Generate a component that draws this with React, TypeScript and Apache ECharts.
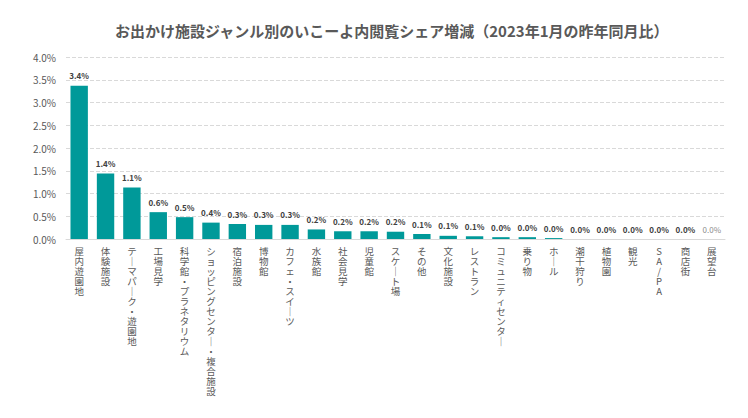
import React, { useEffect, useRef } from "react";
import * as echarts from "echarts";

const titleText = "お出かけ施設ジャンル別のいこーよ内閲覧シェア増減（2023年1月の昨年同月比）";

const categories = [
  "屋内遊園地", "体験施設", "テーマパーク・遊園地", "工場見学", "科学館・プラネタリウム",
  "ショッピングセンター・複合施設", "宿泊施設", "博物館", "カフェ・スイーツ", "水族館",
  "社会見学", "児童館", "スケート場", "その他", "文化施設", "レストラン",
  "コミュニティセンター", "乗り物", "ホール", "潮干狩り", "植物園", "観光",
  "SA/PA", "商店街", "展望台",
];

// share change, percentage points
const shareDiff = [
  3.37, 1.44, 1.13, 0.59, 0.48, 0.36, 0.33, 0.31, 0.31, 0.21,
  0.17, 0.17, 0.16, 0.11, 0.07, 0.06, 0.04, 0.04, 0.02, 0.0,
  0.0, 0.0, 0.0, 0.0, 0.0,
];

const yMax = 4;
const yStep = 0.5;

const FONT = "'Noto Sans CJK JP', 'Noto Sans', sans-serif";

// stack characters top to bottom (tategaki), long vowel mark turned vertical
const verticalize = (s: string) =>
  s.split("").map((c) => (c === "ー" ? "｜" : c)).join("\n");

const App: React.FC = () => {
  const chartRef = useRef<HTMLDivElement>(null);

  useEffect(() => {
    if (!chartRef.current) return;
    const chart = echarts.init(chartRef.current, undefined, { renderer: "svg" });

    const lastIdx = shareDiff.length - 1;
    const barData = shareDiff.map((v, i) =>
      i === lastIdx ? { value: v, label: { color: "#8c8c8c", fontWeight: "normal" } } : v
    );

    const option: any = {
      animation: false,
      textStyle: { fontFamily: FONT },
      title: {
        text: titleText,
        left: 110,
        top: 18,
        textStyle: { fontSize: 15, fontWeight: "bold", color: "#595959", fontFamily: FONT },
      },
      grid: { left: 66, right: 23, top: 57, bottom: 179, containLabel: false },
      xAxis: {
        type: "category",
        data: categories,
        axisLine: { lineStyle: { color: "#d9d9d9" } },
        axisTick: { show: false },
        axisLabel: {
          interval: 0,
          color: "#595959",
          fontSize: 9.5,
          lineHeight: 10,
          verticalAlign: "top",
          margin: 7,
          formatter: (v: string) => verticalize(v),
        },
      },
      yAxis: {
        type: "value",
        min: 0,
        max: yMax,
        interval: yStep,
        axisLine: { show: false },
        axisTick: { show: false },
        splitLine: { lineStyle: { color: "#d9d9d9", type: "dashed" } },
        axisLabel: {
          color: "#595959",
          fontSize: 10,
          margin: 10,
          formatter: (v: number) => `${v.toFixed(1)}%`,
        },
      },
      series: [
        {
          type: "bar",
          data: barData,
          barCategoryGap: "34%",
          itemStyle: { color: "#009999" },
          label: {
            show: true,
            position: "top",
            distance: 6,
            color: "#404040",
            fontSize: 8,
            fontWeight: "bold",
            formatter: (p: any) => `${Number(p.value).toFixed(1)}%`,
          },
        },
      ],
    };

    chart.setOption(option);
    const handleResize = () => chart.resize();
    window.addEventListener("resize", handleResize);
    return () => {
      window.removeEventListener("resize", handleResize);
      chart.dispose();
    };
  }, []);

  return (
    <div
      ref={chartRef}
      style={{ position: "fixed", left: 0, top: 0, width: "748px", height: "418px", background: "#fff" }}
    />
  );
};

export default App;
